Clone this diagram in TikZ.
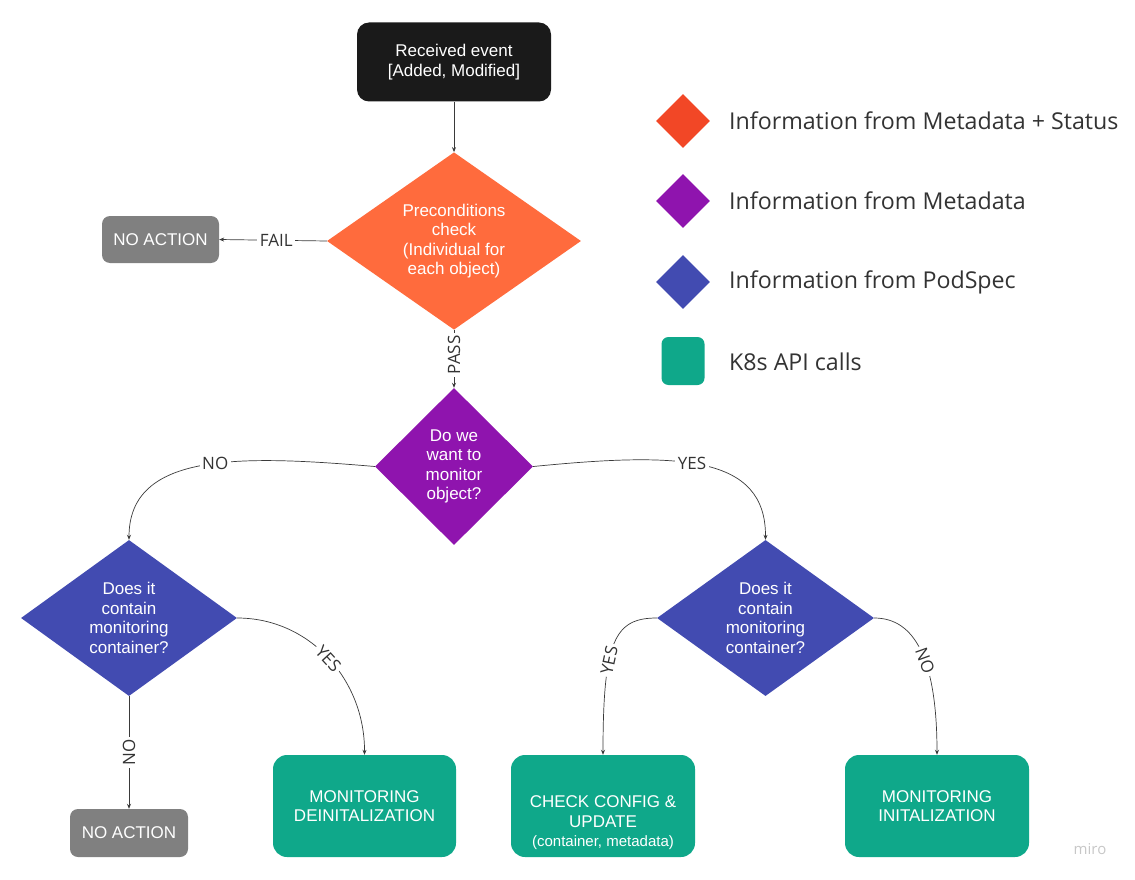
\documentclass[tikz,border=0pt]{standalone}
\usepackage{fontspec}
\setmainfont{Liberation Sans}
\newfontfamily\lblfont{Open Sans}
\usetikzlibrary{shapes.geometric,arrows.meta}
\definecolor{evblack}{HTML}{1A1A1A}
\definecolor{noact}{HTML}{808080}
\definecolor{apigreen}{HTML}{0FA88A}
\definecolor{preorange}{HTML}{FF6B3D}
\definecolor{monpurple}{HTML}{8F14AE}
\definecolor{podblue}{HTML}{424BB1}
\definecolor{legred}{HTML}{F24726}
\definecolor{legtext}{HTML}{333333}
\definecolor{linegray}{HTML}{3A3A3A}
\begin{document}
\begin{tikzpicture}[x=1pt,y=-1pt,
  boxtxt/.style={text=white,align=center,font=\fontsize{17}{19.5}\selectfont,inner sep=3pt},
  evbox/.style={boxtxt,fill=evblack,rounded corners=12pt,minimum width=194pt,minimum height=79pt},
  nabox/.style={boxtxt,fill=noact,rounded corners=8pt,minimum width=117pt,minimum height=47pt},
  apibox/.style={boxtxt,fill=apigreen,rounded corners=14pt,minimum width=184pt,minimum height=102pt},
  dec/.style={boxtxt,diamond,inner sep=0pt},
  conn/.style={draw=linegray,line width=0.7pt,-{Stealth[length=5pt,width=4pt]}},
  lbl/.style={fill=white,inner sep=2.5pt,font=\lblfont\fontsize{17}{20}\selectfont,text=black!80},
  legdia/.style={diamond,minimum width=54pt,minimum height=54pt,inner sep=0pt},
  legtxt/.style={anchor=west,inner sep=0pt,text=legtext,font=\lblfont\fontsize{23.2}{27}\selectfont}
]
\useasboundingbox (0,0) rectangle (1135,880);

% main nodes
\node[evbox] (ev) at (454,62) {Received event\\{[Added, Modified]}};
\node[dec,fill=preorange,minimum width=254pt,minimum height=168pt] (pre) at (454,241)
  {Preconditions\\check\\(Individual for\\each object)};
\node[nabox] (na1) at (160.5,239.5) {NO ACTION};
\node[dec,fill=monpurple,minimum width=158pt,minimum height=157pt] (mon) at (454,466.5)
  {Do we\\want to\\monitor\\object?};
\node[dec,fill=podblue,minimum width=216pt,minimum height=156pt] (dl) at (129,618)
  {Does it\\contain\\monitoring\\container?};
\node[dec,fill=podblue,minimum width=217pt,minimum height=156pt] (dr) at (765.5,618)
  {Does it\\contain\\monitoring\\container?};
\node[nabox,minimum width=118pt,minimum height=48pt] (na2) at (129,833) {NO ACTION};
\node[apibox,minimum width=183pt] (deinit) at (364.5,806) {MONITORING\\DEINITALIZATION};
\node[apibox] (check) at (603,806)
  {\rule{0pt}{46pt}CHECK CONFIG \&\\UPDATE\\{\fontsize{15}{19.5}\selectfont (container, metadata)}};
\node[apibox] (init) at (937,806) {MONITORING\\INITALIZATION};

% connectors
\draw[conn] (ev) -- (pre);
\draw[conn] (pre.west) -- node[lbl,pos=0.47]{FAIL} (na1.east);
\draw[conn] (pre.south) -- node[lbl,rotate=90,pos=0.43]{PASS} (mon.north);
\draw[conn] (mon.west) .. controls (240,455) and (129,452) .. node[lbl,pos=0.45]{NO} (dl.north);
\draw[conn] (mon.east) .. controls (680,452) and (766,455) .. node[lbl,pos=0.45]{YES} (dr.north);
\draw[conn] (dl.east) .. controls (310,618) and (365,680) .. node[lbl,sloped,pos=0.5]{YES} (deinit.north);
\draw[conn] (dl.south) -- node[lbl,rotate=90]{NO} (na2.north);
\draw[conn] (dr.west) .. controls (615,618) and (603,640) .. node[lbl,sloped,pos=0.62]{YES} (check.north);
\draw[conn] (dr.east) .. controls (915,618) and (937,660) .. node[lbl,sloped,pos=0.57]{NO} (init.north);

% legend
\node[legdia,fill=legred] (lg1) at (683,121) {};
\node[legtxt] (lt1) at (729,121) {Information from Metadata + Status};
\node[legdia,fill=monpurple] (lg2) at (683,201) {};
\node[legtxt] (lt2) at (729,201) {Information from Metadata};
\node[legdia,fill=podblue] (lg3) at (683,282) {};
\node[legtxt] (lt3) at (729,282) {Information from PodSpec};
\node[fill=apigreen,rounded corners=7pt,minimum width=43pt,minimum height=48pt,inner sep=0pt] (lg4) at (683,361) {};
\node[legtxt] (lt4) at (729,362) {K8s API calls};

% watermark
\node[text=black!22,font=\lblfont\fontsize{15}{17}\selectfont,inner sep=0pt] (miro) at (1090,849) {miro};
\end{tikzpicture}
\end{document}
